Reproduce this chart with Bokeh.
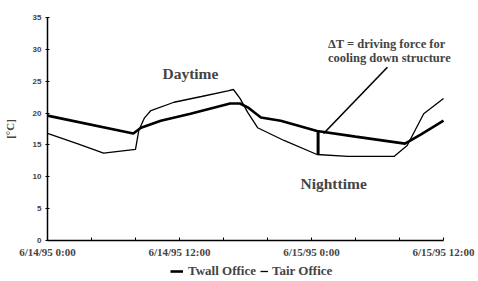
from bokeh.plotting import figure
from bokeh.models import Range1d, FixedTicker, Label, Legend, LegendItem
from bokeh.embed import file_html
from bokeh.resources import INLINE

# ---- data (hours since 6/14/95 0:00, temperature in °C) ----
hours_wall = [0, 7.8, 8.5, 10.3, 13, 16.6, 17.5, 18.2, 19.4, 21.2, 24.5, 28, 32.5, 34, 36]
twall = [19.6, 16.8, 17.7, 18.8, 19.9, 21.5, 21.5, 20.9, 19.3, 18.8, 17.2, 16.3, 15.2, 16.7, 18.8]

hours_air = [0, 2.7, 5.1, 8, 8.3, 8.8, 9.4, 11.5, 14, 16.4, 16.9, 17.5, 18.2, 19.1, 21.5,
             24.5, 27.3, 31.5, 32.7, 34.2, 36]
tair = [16.8, 15.2, 13.7, 14.3, 17.3, 19.2, 20.4, 21.7, 22.6, 23.5, 23.7, 22.3, 20.1, 17.7, 15.7,
        13.5, 13.2, 13.2, 14.9, 19.9, 22.3]

tick_hours = [0, 4, 8, 12, 16, 20, 24, 28, 32, 36]
tick_labels = {0: "6/14/95 0:00", 12: "6/14/95 12:00", 24: "6/15/95 0:00", 36: "6/15/95 12:00"}
y_ticks = [0, 5, 10, 15, 20, 25, 30, 35]

# Delta T marker and pointer
delta_hour = [24.6]
delta_low = [13.5]
delta_high = [17.2]
pointer_x = [25.1, 30.9]
pointer_y = [16.8, 27.2]

SERIF = "Liberation Serif"

# the frame covers the whole figure; axes are pinned at x=0 and y=0
p = figure(width=478, height=281, output_backend="svg", toolbar_location=None,
           x_range=Range1d(-4.273, 39.182), y_range=Range1d(-6.435, 37.668),
           min_border_left=0, min_border_right=0, min_border_top=0, min_border_bottom=0)
p.outline_line_color = None
p.xgrid.visible = False
p.ygrid.visible = False
p.background_fill_color = "white"

r_air = p.line(hours_air, tair, line_color="black", line_width=1.3)
r_wall = p.line(hours_wall, twall, line_color="black", line_width=2.6)

p.segment(x0=delta_hour, y0=delta_low, x1=delta_hour, y1=delta_high, line_color="black", line_width=3)
p.line(pointer_x, pointer_y, line_color="black", line_width=1.6)

# axes
p.xaxis.fixed_location = 0
p.xaxis.bounds = (0, 36)
p.xaxis.ticker = FixedTicker(ticks=tick_hours)
p.xaxis.major_label_overrides = {h: tick_labels.get(h, "") for h in tick_hours}
p.xaxis.minor_tick_line_color = None
p.xaxis.major_tick_in = 3
p.xaxis.major_tick_out = 0
p.xaxis.major_label_standoff = 6
p.xaxis.major_label_text_font = SERIF
p.xaxis.major_label_text_font_style = "bold"
p.xaxis.major_label_text_font_size = "11px"
p.xaxis.axis_line_width = 1.5

p.yaxis.fixed_location = 0
p.yaxis.bounds = (0, 35)
p.yaxis.ticker = FixedTicker(ticks=y_ticks)
p.yaxis.minor_tick_line_color = None
p.yaxis.major_tick_in = 2
p.yaxis.major_tick_out = 2
p.yaxis.major_label_standoff = 4
p.yaxis.major_label_text_font = "Liberation Sans"
p.yaxis.major_label_text_font_style = "bold"
p.yaxis.major_label_text_font_size = "8px"
p.yaxis.axis_line_width = 1.5
p.yaxis.axis_label = "[°C]"
p.yaxis.axis_label_text_font = SERIF
p.yaxis.axis_label_text_font_style = "bold"
p.yaxis.axis_label_text_font_size = "11px"
p.yaxis.axis_label_standoff = 14

# annotations
p.add_layout(Label(x=10.45, y=26.2, text="Daytime", text_font=SERIF, text_font_style="bold",
                   text_font_size="15.5px", text_baseline="middle"))
p.add_layout(Label(x=23.0, y=8.95, text="Nighttime", text_font=SERIF, text_font_style="bold",
                   text_font_size="15.5px", text_baseline="middle"))
p.add_layout(Label(x=25.5, y=30.9, text="ΔT = driving force for", text_font=SERIF,
                   text_font_style="bold", text_font_size="12.5px", text_baseline="middle"))
p.add_layout(Label(x=25.5, y=28.7, text="cooling down structure", text_font=SERIF,
                   text_font_style="bold", text_font_size="12.5px", text_baseline="middle"))

# legends under the axis labels
common = dict(border_line_color=None, background_fill_alpha=0, padding=0, margin=0,
              label_text_font=SERIF, label_text_font_style="bold", label_text_font_size="13px",
              label_height=14, glyph_height=14)
leg1 = Legend(items=[LegendItem(label="Twall Office", renderers=[r_wall])],
              location=(170, 2), glyph_width=13, label_standoff=5, **common)
leg2 = Legend(items=[LegendItem(label="Tair Office", renderers=[r_air])],
              location=(260, 2), glyph_width=8, label_standoff=4, **common)
p.add_layout(leg1)
p.add_layout(leg2)

open("out.html", "w").write(file_html(p, INLINE))
